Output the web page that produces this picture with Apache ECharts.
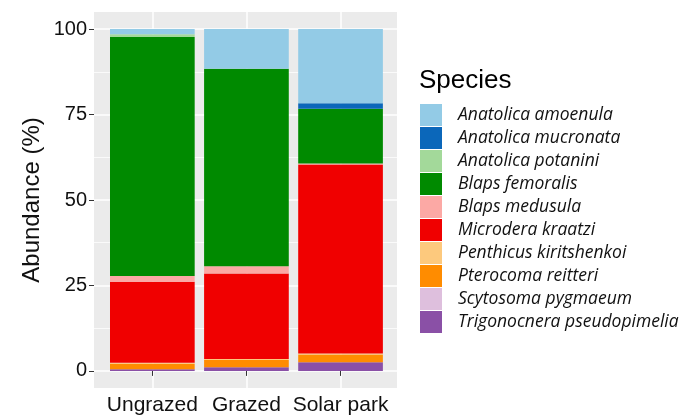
<!DOCTYPE html>
<html><head><meta charset="utf-8">
<script src="https://cdn.jsdelivr.net/npm/echarts@6/dist/echarts.min.js"></script>
<style>html,body{margin:0;padding:0;background:#fff}#c{width:691px;height:416px}</style>
</head><body><div id="c"></div>
<script>
const categories = ['Ungrazed', 'Grazed', 'Solar park'];
const speciesNames = ['Anatolica amoenula', 'Anatolica mucronata', 'Anatolica potanini', 'Blaps femoralis', 'Blaps medusula', 'Microdera kraatzi', 'Penthicus kiritshenkoi', 'Pterocoma reitteri', 'Scytosoma pygmaeum', 'Trigonocnera pseudopimelia'];
// values per category (Ungrazed, Grazed, Solar park), in %
const anatolicaAmoenula = [1.5, 11.6, 21.7];
const anatolicaMucronata = [0, 0, 1.6];
const anatolicaPotanini = [0.8, 0, 0];
const blapsFemoralis = [69.9, 57.8, 16.0];
const blapsMedusula = [1.7, 2.1, 0.3];
const microderaKraatzi = [23.7, 25.0, 55.3];
const penthicusKiritshenkoi = [0.3, 0.3, 0.3];
const pterocomaReitteri = [1.6, 2.1, 2.3];
const scytosomaPygmaeum = [0, 0, 0];
const trigonocneraPseudopimelia = [0.5, 1.1, 2.5];
const yTicks = [0, 25, 50, 75, 100];
const yMinorTicks = [12.5, 37.5, 62.5, 87.5];

const speciesValues = [anatolicaAmoenula, anatolicaMucronata, anatolicaPotanini, blapsFemoralis, blapsMedusula, microderaKraatzi, penthicusKiritshenkoi, pterocomaReitteri, scytosomaPygmaeum, trigonocneraPseudopimelia];
const speciesColors = ['#93CBE6', '#0B67BA', '#A3D99A', '#008A00', '#FCA9A5', '#F00000', '#FDC97D', '#FF8C00', '#DEBFDD', '#8A50A6'];
const xPositions = categories.map((c, j) => j + 1);

const chart = echarts.init(document.getElementById('c'), null, {renderer: 'canvas'});
const series = speciesNames.map((name, i) => ({
  name: name,
  type: 'bar',
  stack: 'total',
  xAxisIndex: 1,
  yAxisIndex: 2,
  barWidth: '90%',
  itemStyle: {color: speciesColors[i]},
  emphasis: {disabled: true},
  data: speciesValues[i]
})).reverse();
// helper empty series so the background grid axes are active
series.push({type: 'line', xAxisIndex: 0, yAxisIndex: 0, data: [], silent: true});

const panelLeft = 94, panelWidth = 303, xMin = 0.38, xMax = 3.6;
const unit = panelWidth / (xMax - xMin);
const barGridLeft = panelLeft + (1 - xMin) * unit - unit / 2;

chart.setOption({
  animation: false,
  backgroundColor: '#fff',
  title: {
    text: 'Species', left: 419, top: 68, padding: 0,
    textStyle: {fontSize: 26, fontWeight: 'normal', fontFamily: 'Liberation Sans', color: '#000'}
  },
  legend: {
    orient: 'vertical', left: 420, top: 104, padding: 0,
    itemWidth: 22, itemHeight: 22, itemGap: 1, icon: 'rect',
    selectedMode: false,
    data: speciesNames,
    textStyle: {fontStyle: 'italic', fontSize: 17.5, fontFamily: 'Open Sans', color: '#111', padding: [0, 0, 0, 11]}
  },
  grid: [{
    left: panelLeft, top: 12, width: panelWidth, height: 376,
    show: true, backgroundColor: '#EBEBEB', borderWidth: 0,
    containLabel: false, outerBoundsMode: 'none'
  }, {
    left: barGridLeft, top: 12, width: unit * 3, height: 376,
    show: false, containLabel: false, outerBoundsMode: 'none'
  }],
  xAxis: [{
    gridIndex: 0, type: 'value', min: xMin, max: xMax,
    axisLine: {show: false},
    axisTick: {show: false, customValues: xPositions},
    axisLabel: {show: false},
    splitLine: {show: true, lineStyle: {color: '#fff', width: 1.5}}
  }, {
    gridIndex: 1, type: 'category', data: categories,
    axisLine: {show: false},
    axisTick: {show: true, alignWithLabel: true, interval: 0, length: 5, lineStyle: {color: '#333', width: 1}},
    axisLabel: {interval: 0, hideOverlap: false, fontSize: 21, color: '#111', margin: 7, fontFamily: 'Liberation Sans'},
    splitLine: {show: false}
  }],
  yAxis: [{
    gridIndex: 0, type: 'value', min: -5, max: 105,
    name: 'Abundance (%)', nameLocation: 'middle', nameRotate: 90, nameGap: 50,
    nameTextStyle: {fontSize: 24, fontFamily: 'Liberation Sans', color: '#111'},
    axisLine: {show: false},
    axisTick: {show: true, customValues: yTicks, length: 5, lineStyle: {color: '#333', width: 1}},
    axisLabel: {customValues: yTicks, fontSize: 20, color: '#111', margin: 7, fontFamily: 'Liberation Sans'},
    splitLine: {show: true, lineStyle: {color: '#fff', width: 1.5}}
  }, {
    gridIndex: 0, type: 'value', min: -5, max: 105, position: 'left',
    axisLine: {show: false},
    axisTick: {show: false, customValues: yMinorTicks},
    axisLabel: {show: false},
    splitLine: {show: true, lineStyle: {color: '#fff', width: 0.75}}
  }, {
    gridIndex: 1, type: 'value', min: -5, max: 105,
    axisLine: {show: false},
    axisTick: {show: false},
    axisLabel: {show: false},
    splitLine: {show: false}
  }],
  series: series
});
</script></body></html>
